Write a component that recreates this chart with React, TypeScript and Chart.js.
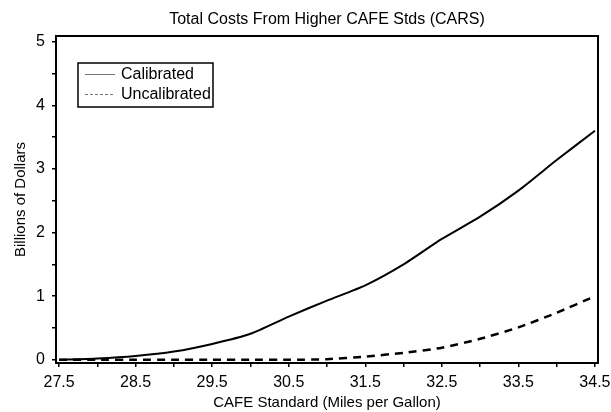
import React, { useEffect, useRef } from "react";
import { Chart, registerables } from "chart.js";

Chart.register(...registerables);

const chartTitle = "Total Costs From Higher CAFE Stds (CARS)";
const mpgValues = [27.5, 28, 28.5, 29, 29.5, 30, 30.5, 31, 31.5, 32, 32.5, 33, 33.5, 34, 34.5];
const calibrated = [0, 0.02, 0.06, 0.13, 0.25, 0.41, 0.68, 0.93, 1.17, 1.5, 1.9, 2.25, 2.66, 3.14, 3.6];
const uncalibrated = [0, 0, 0, 0, 0, 0, 0, 0.01, 0.05, 0.11, 0.19, 0.33, 0.51, 0.74, 1.0];
const xTickValues = [27.5, 28, 28.5, 29, 29.5, 30, 30.5, 31, 31.5, 32, 32.5, 33, 33.5, 34, 34.5];
const yTickValues = [0, 0.5, 1, 1.5, 2, 2.5, 3, 3.5, 4, 4.5, 5];

const FONT = "'Liberation Sans', Arial, Helvetica, sans-serif";

const framePlugin = {
  id: "frame",
  afterDraw(chart: any) {
    const { ctx, chartArea } = chart;
    ctx.save();
    ctx.strokeStyle = "#000";
    ctx.lineWidth = 2;
    ctx.strokeRect(chartArea.left, chartArea.top, chartArea.right - chartArea.left, chartArea.bottom - chartArea.top);
    ctx.fillStyle = "#000";
    ctx.font = `16px ${FONT}`;
    ctx.textAlign = "center";
    ctx.textBaseline = "middle";
    ctx.fillText(chartTitle, (chartArea.left + chartArea.right) / 2, 20);
    ctx.restore();
  },
};

const legendPlugin = {
  id: "boxLegend",
  afterDraw(chart: any) {
    const { ctx } = chart;
    const x = 78, y = 63, w = 135, h = 44;
    ctx.save();
    ctx.fillStyle = "#fff";
    ctx.fillRect(x, y, w, h);
    ctx.strokeStyle = "#000";
    ctx.lineWidth = 1.5;
    ctx.strokeRect(x, y, w, h);
    const rows = chart.data.datasets;
    rows.forEach((ds: any, i: number) => {
      const ly = y + 11.5 + i * 20;
      ctx.beginPath();
      ctx.strokeStyle = "#777";
      ctx.lineWidth = 1;
      ctx.setLineDash(i === 1 ? [3, 2] : []);
      ctx.moveTo(x + 7, ly);
      ctx.lineTo(x + 37, ly);
      ctx.stroke();
      ctx.setLineDash([]);
      ctx.fillStyle = "#000";
      ctx.font = `16px ${FONT}`;
      ctx.textBaseline = "middle";
      ctx.textAlign = "left";
      ctx.fillText(ds.label, x + 43, ly + 0.5);
    });
    ctx.restore();
  },
};

export default function App() {
  const ref = useRef<HTMLCanvasElement | null>(null);
  useEffect(() => {
    document.body.style.margin = "0";
    const canvas = ref.current!;
    const chart = new Chart(canvas, {
      type: "line",
      data: {
        datasets: [
          {
            label: "Calibrated",
            data: mpgValues.map((x, i) => ({ x, y: calibrated[i] })),
            borderColor: "#000",
            borderWidth: 2,
            pointRadius: 0,
            tension: 0.2,
            fill: false,
          },
          {
            label: "Uncalibrated",
            data: mpgValues.map((x, i) => ({ x, y: uncalibrated[i] })),
            borderColor: "#000",
            borderWidth: 2.5,
            borderDash: [8, 6],
            pointRadius: 0,
            tension: 0.2,
            fill: false,
          },
        ],
      },
      options: {
        responsive: false,
        animation: false,
        devicePixelRatio: 1,
        layout: { padding: { left: 0, right: 13, top: 36, bottom: 0 } },
        plugins: {
          legend: { display: false },
          tooltip: { enabled: false },
          title: { display: false },
        },
        scales: {
          x: {
            type: "linear",
            min: 27.46,
            max: 34.54,
            afterBuildTicks: (scale: any) => {
              scale.ticks = xTickValues.map((v) => ({ value: v }));
            },
            afterFit: (scale: any) => {
              scale.height = 49;
              scale.paddingLeft = 0;
              scale.paddingRight = 0;
            },
            ticks: {
              autoSkip: false,
              maxRotation: 0,
              color: "#000",
              padding: 6,
              font: { family: FONT, size: 16 },
              callback: (v: any) => {
                const n = Number(v);
                return Math.abs((n - 27.5) - Math.round(n - 27.5)) < 1e-6 ? n.toFixed(1) : "";
              },
            },
            grid: { drawOnChartArea: false, drawTicks: true, tickLength: 4, color: "#000", lineWidth: 1.5 },
            border: { display: false },
            title: {
              display: true,
              text: "CAFE Standard (Miles per Gallon)",
              color: "#000",
              font: { family: FONT, size: 15 },
              padding: { top: 0, bottom: 0 },
            },
          },
          y: {
            type: "linear",
            min: -0.05,
            max: 5.09,
            afterBuildTicks: (scale: any) => {
              scale.ticks = yTickValues.map((v) => ({ value: v }));
            },
            afterFit: (scale: any) => {
              scale.width = 56;
              scale.paddingTop = 0;
              scale.paddingBottom = 0;
            },
            ticks: {
              autoSkip: false,
              color: "#000",
              padding: 7,
              font: { family: FONT, size: 16 },
              callback: (v: any) => {
                const n = Number(v);
                return Math.abs(n - Math.round(n)) < 1e-6 ? String(Math.round(n)) : "";
              },
            },
            grid: { drawOnChartArea: false, drawTicks: true, tickLength: 4, color: "#000", lineWidth: 1.5 },
            border: { display: false },
            title: {
              display: true,
              text: "Billions of Dollars",
              color: "#000",
              font: { family: FONT, size: 15 },
              padding: { top: 12, bottom: 0 },
            },
          },
        },
      },
      plugins: [framePlugin, legendPlugin],
    } as any);
    return () => chart.destroy();
  }, []);
  return (
    <div style={{ width: 611, height: 412 }}>
      <canvas ref={ref} width={611} height={412} style={{ display: "block" }} />
    </div>
  );
}
